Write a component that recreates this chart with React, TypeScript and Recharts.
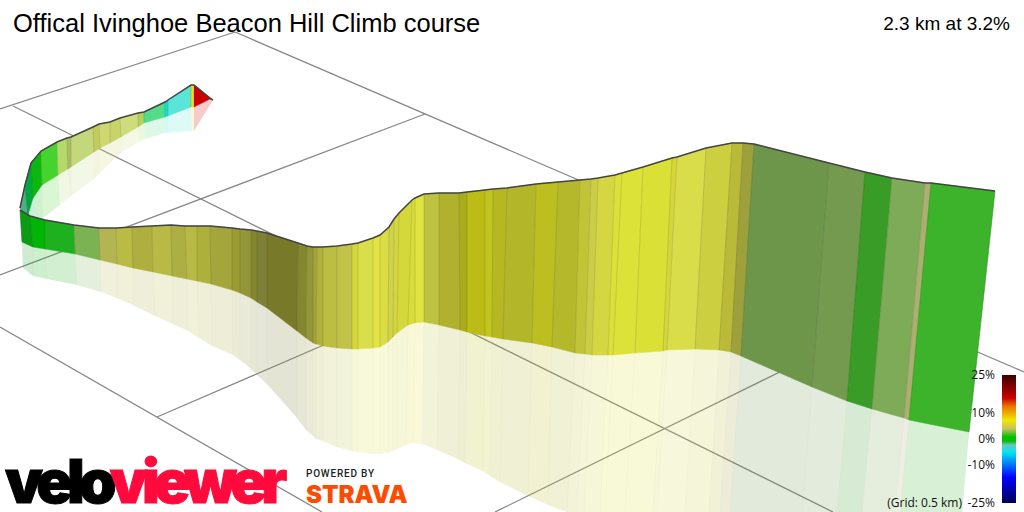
import React from "react";
import {
  Area,
  ComposedChart,
  Line,
  ReferenceArea,
  XAxis,
  YAxis,
} from "recharts";

// Near leg of the ribbon, one entry per colour change.
const nearTopX = [20, 30, 45, 74, 99, 116, 132, 152, 171, 185, 197, 210, 232, 240, 251, 257, 267, 298, 307, 313, 317, 323, 337, 352, 358, 373, 380, 389, 394, 399, 412, 415, 424, 439, 459, 467, 485, 493, 507, 536, 558, 580, 591, 598, 615, 622, 643, 672, 677, 706, 732, 743, 754, 829, 865, 892, 925, 931, 995];
const nearTopY = [210, 216, 220, 225, 228, 228, 227, 226, 225, 226, 226, 226, 228, 229, 230, 231, 233, 243, 246, 247, 247, 247, 246, 244, 243, 238, 235, 227, 219, 213, 200, 198, 194, 193, 193, 192, 190, 189, 188, 184, 182, 180, 179, 178, 175, 173, 167, 158, 157, 148, 143, 143, 144, 163, 172, 178, 183, 183, 191];
const nearBaseX = [22, 33, 45, 75, 100, 117, 133, 153, 172, 187, 197, 211, 232, 240, 251, 257, 267, 297, 306, 313, 316, 323, 337, 352, 358, 373, 380, 388, 393, 397, 408, 415, 424, 439, 460, 467, 485, 492, 503, 532, 552, 575, 585, 592, 608, 613, 635, 663, 667, 695, 719, 731, 741, 812, 847, 872, 904, 909, 969];
const nearBaseY = [242, 247, 249, 254, 260, 264, 268, 272, 276, 279, 281, 284, 290, 293, 298, 302, 308, 331, 338, 343, 344, 346, 348, 349, 349, 348, 347, 342, 337, 333, 325, 323, 322, 325, 330, 332, 336, 337, 339, 343, 347, 353, 354, 355, 355, 355, 353, 351, 350, 349, 350, 352, 356, 387, 401, 409, 418, 420, 432];
const nearShadowX = [23, 33, 47, 77, 101, 117, 133, 155, 173, 188, 199, 212, 233, 240, 251, 257, 267, 297, 306, 313, 316, 323, 337, 352, 358, 373, 380, 388, 393, 397, 406, 413, 422, 437, 458, 465, 483, 490, 500, 528, 548, 567, 577, 584, 600, 605, 625, 653, 657, 685, 709, 720, 730, 802, 837, 862, 895, 900, 962];
const nearShadowY = [268, 276, 279, 285, 292, 298, 305, 316, 324, 331, 338, 346, 355, 360, 369, 375, 384, 418, 430, 436, 439, 441, 447, 451, 452, 454, 454, 453, 451, 449, 445, 443, 444, 450, 459, 463, 471, 476, 482, 496, 505, 512, 512, 512, 512, 512, 512, 512, 512, 512, 512, 512, 512, 512, 512, 512, 512, 512, 512];
const nearColors = ["#0d9a14", "#00b505", "#1fb01f", "#7bb352", "#b2b552", "#b9bb44", "#afaf3f", "#b8ba45", "#adaf42", "#b8ba45", "#aeb03c", "#a4a63c", "#9a9c32", "#94963a", "#85872e", "#7f8038", "#79792a", "#85872f", "#94963b", "#a2a338", "#afb03e", "#bcbe44", "#c0c24a", "#d4d63a", "#dade4a", "#e2e444", "#dadc44", "#d0d24a", "#d4d640", "#d4d83a", "#dadc3a", "#dfe340", "#bec240", "#b0b22e", "#aaac1c", "#bbbd16", "#c2c420", "#b6b822", "#b4b62a", "#bdbe20", "#b6b82b", "#c2c438", "#cccd46", "#d4d642", "#dde038", "#dce238", "#dbe036", "#d4d63a", "#d9dd4a", "#ccd040", "#b8ba38", "#9ea03c", "#6e964b", "#749a50", "#389c26", "#7eab57", "#abb070", "#3db32b"];

// Far leg, running up to the tip at the top left.
const farTopX = [20, 25, 31, 41, 57, 67, 71, 93, 99, 110, 120, 138, 144, 165, 168, 191, 194, 210, 213];
const farTopY = [208, 185, 163, 151, 142, 138, 137, 127, 124, 122, 118, 113, 112, 102, 100, 85, 85, 98, 100];
const farBaseX = [26, 28, 33, 42, 58, 68, 71, 94, 100, 110, 121, 138, 144, 165, 168, 191, 194, 210, 213];
const farBaseY = [216, 215, 198, 185, 175, 169, 167, 152, 148, 143, 137, 127, 123, 117, 116, 107, 107, 99, 100];
const farShadowX = [28, 30, 35, 43, 60, 70, 72, 93, 100, 111, 122, 139, 145, 165, 168, 192, 194, 210, 213];
const farShadowY = [216, 216, 217, 218, 205, 197, 195, 180, 173, 162, 152, 142, 139, 133, 133, 131, 131, 105, 100];
const farColors = ["#4fae85", "#00a83c", "#0cb80f", "#45d32d", "#b5d86d", "#a8c060", "#c4d77b", "#c2cc5a", "#cfd870", "#c8d468", "#cfdc7c", "#afd260", "#55dc8a", "#14e0d8", "#5ae5d8", "#f0e010", "#cc0000", "#660000"];

// Floor grid, each line as [x1, y1, x2, y2].
const gridLines = [
  [0, 109, 235, 32],
  [235, 32, 1024, 372],
  [0, 275, 425, 114],
  [13, 106, 833, 512],
  [157, 417, 400, 312],
  [0, 327, 322, 512],
  [495, 512, 800, 362],
];

const gradeTicks = [25, 10, 0, -10, -25];
const gradeStops: [number, string][] = [
  [25, "#3a0000"],
  [16, "#cc0000"],
  [13, "#e87000"],
  [7.4, "#f0e800"],
  [4, "#c8c060"],
  [0.8, "#00c000"],
  [-0.8, "#00c000"],
  [-2.3, "#70c0c0"],
  [-5, "#00e8f0"],
  [-15, "#0000ff"],
  [-25, "#000050"],
];

const title = "Offical Ivinghoe Beacon Hill Climb course";
const summary = "2.3 km at 3.2%";
const gridNote = "(Grid: 0.5 km)";

type Pt = [number, number];

// An Area needs a [low, high] per x, so cut the quad at each of its corners.
function polygonRows(pts: Pt[]) {
  const xs = [...new Set(pts.map((p) => p[0]))].sort((a, b) => a - b);
  return xs.map((x) => {
    const ys: number[] = [];
    pts.forEach((p, i) => {
      const q = pts[(i + 1) % pts.length];
      if (x < Math.min(p[0], q[0]) || x > Math.max(p[0], q[0])) return;
      if (p[0] === q[0]) ys.push(p[1], q[1]);
      else ys.push(p[1] + ((x - p[0]) / (q[0] - p[0])) * (q[1] - p[1]));
    });
    return { x, range: [Math.min(...ys), Math.max(...ys)] };
  });
}

function bands(x1: number[], y1: number[], x2: number[], y2: number[]) {
  return x1.slice(0, -1).map((_, i) =>
    polygonRows([
      [x1[i], y1[i]],
      [x1[i + 1], y1[i + 1]],
      [x2[i + 1], y2[i + 1]],
      [x2[i], y2[i]],
    ])
  );
}

function polyline(xs: number[], ys: number[]) {
  return xs.map((x, i) => ({ x, y: ys[i] }));
}

const edgeLines = (x1: number[], y1: number[], x2: number[], y2: number[]) =>
  x1.map((_, i) => [
    { x: x1[i], y: y1[i] },
    { x: x2[i], y: y2[i] },
  ]);

function GradeTick({ y, payload }: any) {
  return (
    <text x={995} y={y + 4} textAnchor="end" fontSize={12} fill="#111" fontFamily="'Open Sans', sans-serif">
      {payload.value}%
    </text>
  );
}

export default function App() {
  const axisProps = { yAxisId: "main", isAnimationActive: false, legendType: "none" as const };
  const areaProps = { ...axisProps, type: "linear" as const, dataKey: "range", dot: false, activeDot: false };
  const lineProps = { ...axisProps, type: "linear" as const, dataKey: "y", dot: false, activeDot: false };

  return (
    <div style={{ position: "absolute", left: 0, top: 0, width: 1024, height: 512, background: "#fff", overflow: "hidden" }}>
      <ComposedChart width={1024} height={512} margin={{ top: 0, right: 0, bottom: 0, left: 0 }} data={[]}>
        <defs>
          <linearGradient id="gradeScale" x1="0" y1="0" x2="0" y2="1">
            {gradeStops.map(([g, c]) => (
              <stop key={g} offset={(25 - g) / 50} stopColor={c} />
            ))}
          </linearGradient>
        </defs>
        <XAxis type="number" dataKey="x" domain={[0, 1024]} hide />
        <YAxis yAxisId="main" type="number" domain={[0, 512]} reversed hide />
        <YAxis
          yAxisId="grade"
          type="number"
          orientation="right"
          mirror
          domain={[-28.5, 171.5]}
          ticks={gradeTicks}
          interval={0}
          axisLine={false}
          tickLine={false}
          tick={GradeTick}
        />

        {/* keeps the grade axis alive, it has no visible series of its own */}
        <Line
          yAxisId="grade"
          dataKey="grade"
          data={gradeTicks.map((grade) => ({ x: 1009, grade }))}
          stroke="none"
          dot={false}
          activeDot={false}
          isAnimationActive={false}
          legendType="none"
        />

        {gridLines.map(([x1, y1, x2, y2], i) => (
          <Line key={`grid${i}`} {...lineProps} zIndex={10} data={[{ x: x1, y: y1 }, { x: x2, y: y2 }]} stroke="#888" strokeWidth={1.3} />
        ))}

        {bands(farBaseX, farBaseY, farShadowX, farShadowY).map((rows, i) => (
          <Area key={`farShadow${i}`} {...areaProps} zIndex={20} data={rows} fill={farColors[i]} fillOpacity={0.2} stroke="none" />
        ))}
        {bands(nearBaseX, nearBaseY, nearShadowX, nearShadowY).map((rows, i) => (
          <Area key={`nearShadow${i}`} {...areaProps} zIndex={20} data={rows} fill={nearColors[i]} fillOpacity={0.2} stroke="none" />
        ))}

        {bands(farTopX, farTopY, farBaseX, farBaseY).map((rows, i) => (
          <Area key={`far${i}`} {...areaProps} zIndex={30} data={rows} fill={farColors[i]} fillOpacity={1} stroke={farColors[i]} strokeWidth={0.5} />
        ))}
        {edgeLines(farTopX, farTopY, farBaseX, farBaseY).map((pts, i) => (
          <Line key={`farEdge${i}`} {...lineProps} zIndex={31} data={pts} stroke="#000" strokeOpacity={0.12} strokeWidth={1} />
        ))}
        <Line {...lineProps} zIndex={32} data={polyline(farTopX, farTopY)} stroke="#444" strokeWidth={1.5} />

        {bands(nearTopX, nearTopY, nearBaseX, nearBaseY).map((rows, i) => (
          <Area key={`near${i}`} {...areaProps} zIndex={40} data={rows} fill={nearColors[i]} fillOpacity={1} stroke={nearColors[i]} strokeWidth={0.5} />
        ))}
        {edgeLines(nearTopX, nearTopY, nearBaseX, nearBaseY).map((pts, i) => (
          <Line key={`nearEdge${i}`} {...lineProps} zIndex={41} data={pts} stroke="#000" strokeOpacity={0.12} strokeWidth={1} />
        ))}
        {edgeLines(nearBaseX, nearBaseY, nearShadowX, nearShadowY).map((pts, i) => (
          <Line key={`nearShadowEdge${i}`} {...lineProps} zIndex={21} data={pts} stroke="#000" strokeOpacity={0.02} strokeWidth={1} />
        ))}
        <Line {...lineProps} zIndex={42} data={polyline(nearTopX, nearTopY)} stroke="#444" strokeWidth={1.5} />

        <ReferenceArea yAxisId="grade" x1={1002} x2={1016} y1={25} y2={-25} fill="url(#gradeScale)" fillOpacity={1} stroke="none" ifOverflow="visible" zIndex={60} />
      </ComposedChart>

      <svg width={1024} height={512} style={{ position: "absolute", left: 0, top: 0 }}>
        <text x={13} y={32} fontSize={25.5} fontFamily="'Liberation Sans', Arial, sans-serif" fill="#000">{title}</text>
        <text x={1010} y={30} textAnchor="end" fontSize={19} fontFamily="'Liberation Sans', Arial, sans-serif" fill="#000">{summary}</text>
        <text x={962} y={507} textAnchor="end" fontSize={12} fontFamily="'Open Sans', sans-serif" fill="#111">{gridNote}</text>

        <text x={5} y={503} fontSize={60} fontWeight={900} fontFamily="Inter, 'Liberation Sans', sans-serif" letterSpacing={-5.7} strokeWidth={1}>
          <tspan fill="#000" stroke="#000">velo</tspan>
          <tspan fill="#ff0a3c" stroke="#ff0a3c">viewer</tspan>
        </text>
        <text x={306} y={477} fontSize={10} fontWeight={500} letterSpacing={0.8} fontFamily="Roboto, sans-serif" fill="#222">POWERED BY</text>
        <text x={306} y={503} fontSize={24} fontWeight={900} fontFamily="Inter, 'Liberation Sans', sans-serif" fill="#fc4c02">STRAVA</text>
      </svg>
    </div>
  );
}
